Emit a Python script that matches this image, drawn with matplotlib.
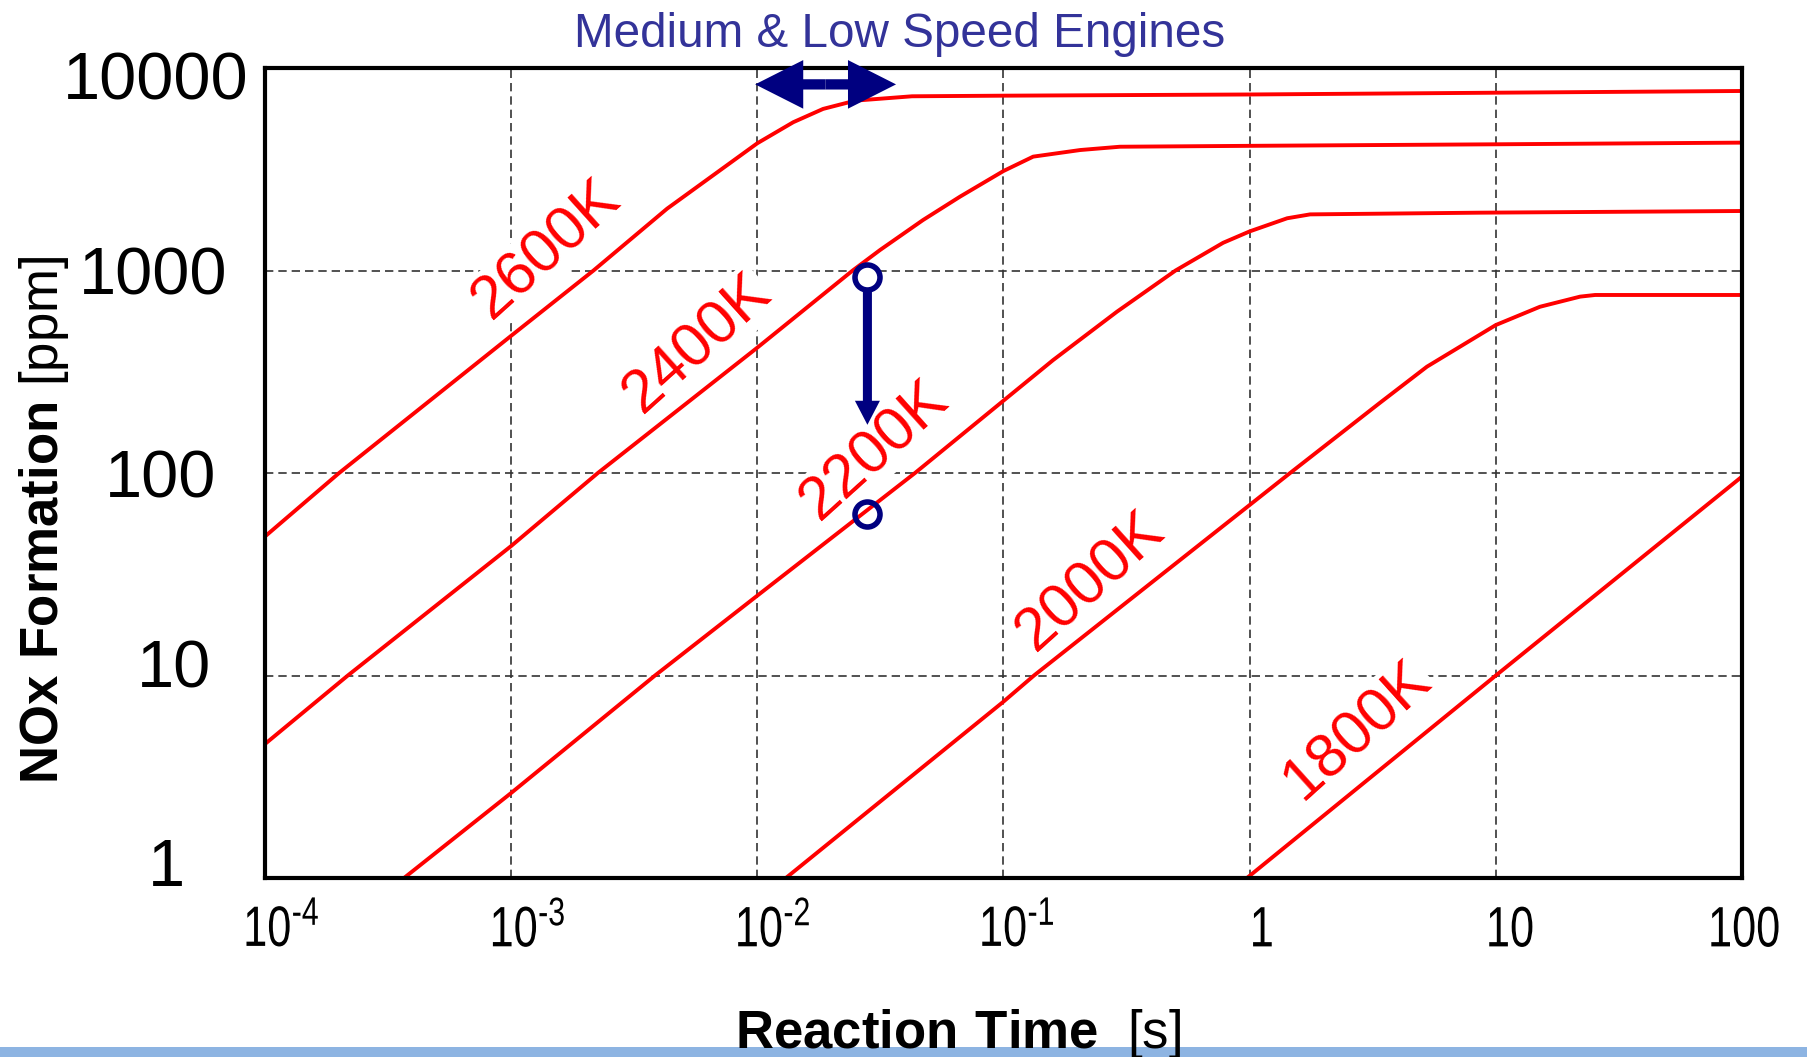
import matplotlib
matplotlib.use('Agg')
import matplotlib.pyplot as plt
from matplotlib.patches import FancyArrowPatch, Rectangle
from matplotlib.patheffects import AbstractPathEffect
from matplotlib.ticker import FixedLocator, FixedFormatter, NullLocator
from matplotlib.transforms import Affine2D, ScaledTranslation

plt.rcParams['font.family'] = ['Liberation Sans', 'DejaVu Sans']
plt.rcParams['mathtext.fontset'] = 'custom'
plt.rcParams['mathtext.bf'] = 'Liberation Sans:bold'
plt.rcParams['mathtext.default'] = 'regular'

# NOx formation [ppm] vs reaction time [s], one curve per flame temperature
t_2600  = [1e-4, 2e-4, 1e-3, 2.16e-3, 4.3e-3, 1e-2, 0.014, 0.0185, 0.025, 0.0425, 0.1, 1, 10, 100]
no_2600 = [48.6, 100, 476, 1000, 2020, 4250, 5400, 6280, 6900, 7250, 7300, 7400, 7550, 7700]

t_2400  = [1e-4, 2.17e-4, 1e-3, 2.25e-3, 1e-2, 0.0244, 0.0315, 0.0471, 0.0666, 0.1, 0.132, 0.205, 0.297, 1.1, 10, 100]
no_2400 = [4.59, 10, 43.6, 100, 416, 1000, 1262, 1775, 2316, 3100, 3650, 3935, 4085, 4130, 4200, 4280]

t_2200  = [3.67e-4, 1e-3, 3.84e-3, 1e-2, 0.0437, 0.159, 0.289, 0.5, 0.78, 1.0, 1.42, 1.76, 8.6, 100]
no_2200 = [1, 2.63, 10, 24.8, 100, 361, 626, 1000, 1370, 1560, 1811, 1893, 1930, 1967]

t_2000  = [0.01306, 0.1, 0.133, 1, 1.46, 3.38, 5.25, 10, 15.1, 22, 25.3, 100]
no_2000 = [1, 7.43, 10, 69.5, 100, 222, 335, 538, 662, 743, 757, 757]

t_1800  = [0.975, 10, 100]
no_1800 = [1, 10, 96]

curves = [(t_2600, no_2600), (t_2400, no_2400), (t_2200, no_2200),
          (t_2000, no_2000), (t_1800, no_1800)]

temp_labels = ['2600K', '2400K', '2200K', '2000K', '1800K']
label_t  = [1.4e-3, 5.74e-3, 0.030, 0.226, 2.75]
label_no = [1260, 435, 128, 29, 5.3]

# 2400K -> 2200K at the same residence time
mark_t  = 0.028
mark_no = [930, 63]
drop_no = [783, 173]

# residence time band of medium & low speed engines
engine_t  = [0.0098, 0.0366]
engine_no = 8300

x_ticks = [1e-4, 1e-3, 1e-2, 1e-1, 1, 10, 100]
x_tick_labels = ['$10^{\u20104}$', '$10^{\u20103}$', '$10^{\u20102}$', '$10^{\u20101}$',
                 '1', '10', '100']
y_ticks = [1, 10, 100, 1000, 10000]
y_tick_labels = ['1', '10', '100', '1000', '10000']

# hand placed label nudges in pixels (dx, dy)
x_label_nudge = [(16, 0), (16, 0), (15, 0), (13, 0), (12, 0), (14, 0), (2, 0)]
y_label_nudge = [(-63, 16), (-37, 11.5), (-32, 0), (-21, 0), (0, -7)]

navy = '#000080'


class Condense(AbstractPathEffect):
    """Squeeze glyphs horizontally about their own centre."""

    def __init__(self, sx):
        super().__init__()
        self.sx = sx

    def draw_path(self, renderer, gc, tpath, affine, rgbFace=None):
        ext = tpath.get_extents(affine)
        cx = 0.5 * (ext.x0 + ext.x1)
        squeeze = Affine2D().translate(-cx, 0).scale(self.sx, 1).translate(cx, 0)
        renderer.draw_path(gc, tpath, affine + squeeze, rgbFace)


fig = plt.figure(figsize=(18.07, 10.57), dpi=100)
ax = fig.add_axes([265/1807, 179/1057, 1477/1807, 810/1057])
ax.set_xscale('log')
ax.set_yscale('log')
ax.set_xlim(1e-4, 100)
ax.set_ylim(1, 10000)

for t, no in curves:
    ax.plot(t, no, color='#ff0000', lw=2.8, zorder=2, solid_joinstyle='round')

for lab, t, no in zip(temp_labels, label_t, label_no):
    ax.text(t, no, lab, color='#ff0000', fontsize=44, rotation=42,
            rotation_mode='anchor', ha='center', va='center', zorder=1.5,
            bbox=dict(fc='white', ec='none', pad=1))

# drop arrow and the two state points
ax.add_patch(FancyArrowPatch((mark_t, drop_no[0]), (mark_t, drop_no[1]),
             arrowstyle='simple,head_length=17.3,head_width=18,tail_width=6.5',
             mutation_scale=1, shrinkA=0, shrinkB=0, color=navy, lw=0, zorder=3))
ax.plot([mark_t], [mark_no[0]], 'o', ms=18, mew=4, mec=navy, mfc='white', zorder=4)
ax.plot([mark_t], [mark_no[1]], 'o', ms=18, mew=4, mec=navy, mfc='none', zorder=4)

# double-headed arrow for the engine band
mid_t = (engine_t[0] * engine_t[1]) ** 0.5
for end in engine_t:
    ax.add_patch(FancyArrowPatch((mid_t, engine_no), (end, engine_no),
                 arrowstyle='simple,head_length=34.6,head_width=35,tail_width=7.4',
                 mutation_scale=1, shrinkA=0, shrinkB=0, color=navy, lw=0,
                 zorder=3, clip_on=False))

ax.xaxis.set_major_locator(FixedLocator(x_ticks))
ax.xaxis.set_major_formatter(FixedFormatter(x_tick_labels))
ax.yaxis.set_major_locator(FixedLocator(y_ticks))
ax.yaxis.set_major_formatter(FixedFormatter(y_tick_labels))
ax.xaxis.set_minor_locator(NullLocator())
ax.yaxis.set_minor_locator(NullLocator())
ax.tick_params(axis='both', length=0)
ax.tick_params(axis='y', pad=12, labelsize=48)
ax.tick_params(axis='x', pad=19, labelsize=41)

for tick, (dx, dy) in zip(ax.xaxis.get_major_ticks(), x_label_nudge):
    tick.label1.set_transform(tick.label1.get_transform()
                              + ScaledTranslation(dx / 100, dy / 100, fig.dpi_scale_trans))
    tick.label1.set_path_effects([Condense(0.76)])
for tick, (dx, dy) in zip(ax.yaxis.get_major_ticks(), y_label_nudge):
    tick.label1.set_transform(tick.label1.get_transform()
                              + ScaledTranslation(dx / 100, dy / 100, fig.dpi_scale_trans))

ax.set_axisbelow(True)
ax.grid(True, which='major', color='#333333', linestyle=(0, (5, 3)), lw=1.2)
for sp in ax.spines.values():
    sp.set_linewidth(3)
    sp.set_color('black')

fig.text(900/1807, 1 - 47/1057, 'Medium & Low Speed Engines', color='#333399',
         fontsize=34.3, ha='center', va='baseline')
fig.text(958/1807, 1 - 1048/1057, r'$\mathbf{Reaction\ Time}$  [s]',
         fontsize=38, ha='center', va='baseline')
fig.text(0.0245, 0.508, r'$\mathbf{NOx\ Formation}$ [ppm]', fontsize=38,
         rotation=90, ha='center', va='center')

fig.add_artist(Rectangle((0, 0), 1, 10.5/1057, transform=fig.transFigure,
                         color='#8db4e2', lw=0, zorder=-1))

fig.savefig('out.png', dpi=100, facecolor='white')
